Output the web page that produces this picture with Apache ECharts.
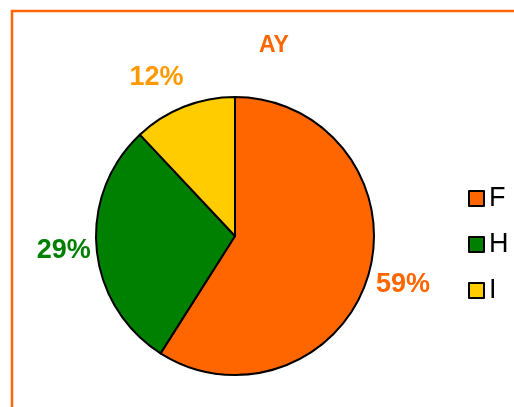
<!DOCTYPE html>
<html>
<head>
<meta charset="utf-8">
<script src="https://cdn.jsdelivr.net/npm/echarts@6/dist/echarts.min.js"></script>
<style>
  html, body { margin: 0; padding: 0; background: #fff; }
  #main { width: 514px; height: 407px; }
</style>
</head>
<body>
<div id="main"></div>
<script>
// chart data
var categories = ["F", "H", "I"];
var shares = [59, 29, 12];
var sliceColors = ["#FF6600", "#008000", "#FFCC00"];
var labelColors = ["#FF6600", "#008000", "#FF9900"];

var FONT = "'Liberation Sans', Arial, sans-serif";

var myChart = echarts.init(document.getElementById("main"));

var pieData = categories.map(function (name, i) {
  return { name: name, value: shares[i], itemStyle: { color: sliceColors[i] } };
});
// same values, used only to place the percentage labels outside the pie
var labelData = categories.map(function (name, i) {
  var lbl = { color: labelColors[i] };
  // small nudge for the narrow top slice label
  if (i === 2) lbl.offset = [-14, 4];
  if (i === 1) lbl.offset = [3, -2];
  return { name: name, value: shares[i], label: lbl };
});

var option = {
  animation: false,
  backgroundColor: "#fff",
  title: {
    text: "AY",
    left: 269,
    top: 29,
    textAlign: "center",
    textStyle: { color: "#FF6600", fontSize: 23, fontWeight: "bold", fontFamily: FONT }
  },
  graphic: [
    {
      type: "rect",
      shape: { x: 12, y: 11, width: 600, height: 500 },
      style: { fill: null, stroke: "#FF6600", lineWidth: 2.5 },
      silent: true
    }
  ],
  legend: {
    data: categories,
    orient: "vertical",
    left: 463,
    top: 180,
    itemWidth: 15,
    itemHeight: 15,
    itemGap: 19,
    icon: "rect",
    itemStyle: { borderColor: "#000", borderWidth: 2 },
    textStyle: { fontSize: 27, color: "#000", fontFamily: FONT, padding: [0, 0, 4, 0] }
  },
  series: [
    {
      type: "pie",
      center: [235, 236],
      radius: [0, 139],
      startAngle: 90,
      clockwise: true,
      label: { show: false },
      labelLine: { show: false },
      itemStyle: { borderColor: "#000", borderWidth: 2 },
      emphasis: { disabled: true },
      data: pieData
    },
    {
      // invisible ring: carries the % labels
      type: "pie",
      center: [235, 236],
      radius: [164, 180],
      startAngle: 90,
      clockwise: true,
      silent: true,
      itemStyle: { color: "transparent", borderWidth: 0 },
      label: {
        show: true,
        position: "inside",
        formatter: "{c}%",
        fontSize: 27,
        fontWeight: "bold",
        fontFamily: FONT
      },
      labelLine: { show: false },
      emphasis: { disabled: true },
      data: labelData
    }
  ]
};

myChart.setOption(option);
</script>
</body>
</html>
